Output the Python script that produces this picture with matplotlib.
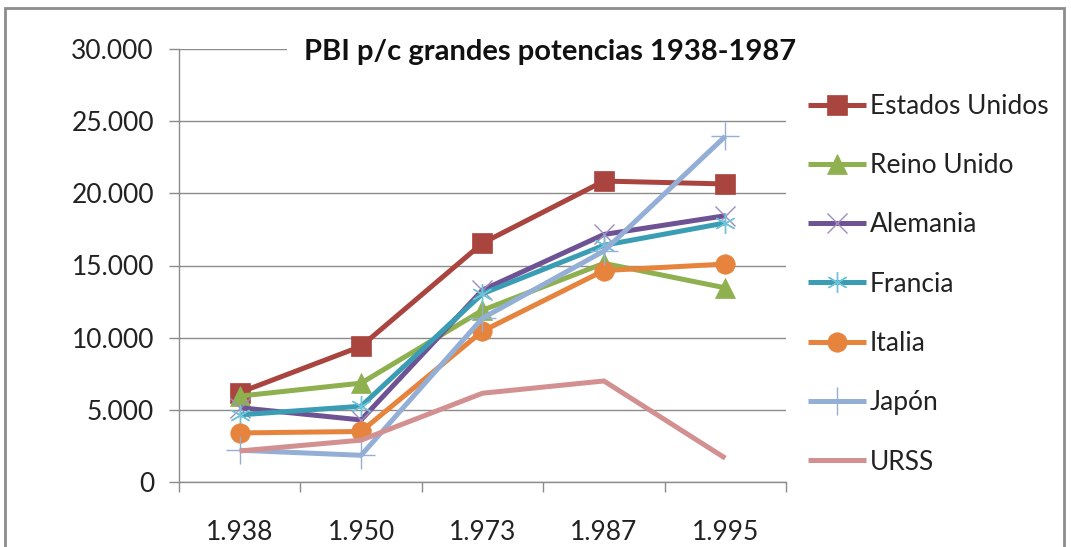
import numpy as np
import matplotlib
matplotlib.use("Agg")
import matplotlib.pyplot as plt
from matplotlib.patches import Rectangle
from matplotlib.ticker import FuncFormatter

plt.rcParams['font.family'] = ['Lato', 'DejaVu Sans']

years = ['1.938', '1.950', '1.973', '1.987', '1.995']
estados_unidos = [6200, 9400, 16550, 20850, 20650]
reino_unido = [5950, 6850, 11900, 15150, 13450]
alemania = [5150, 4300, 13300, 17150, 18450]
francia = [4650, 5250, 13050, 16400, 17950]
italia = [3400, 3500, 10450, 14650, 15100]
japon = [2200, 1850, 11350, 16000, 23950]
urss = [2150, 2900, 6150, 7000, 1650]

W, H = 1071, 547
fig = plt.figure(figsize=(W / 100, H / 100), dpi=100)
ax = fig.add_axes([179 / W, 1 - 482 / H, (786 - 179) / W, (482 - 49) / H])

x = np.arange(len(years))
# (label, values, line colour, marker, marker colour, marker size)
series = [
    ('Estados Unidos', estados_unidos, '#A9443F', 's', '#A9443F', 14),
    ('Reino Unido', reino_unido, '#8EB04F', '^', '#8EB04F', 14),
    ('Alemania', alemania, '#6E5394', 'x', '#A08CC0', 14),
    ('Francia', francia, '#3A9DB4', (6, 2, 0), '#6FC3D8', 15),
    ('Italia', italia, '#E6843D', 'o', '#E6843D', 14),
    ('Japón', japon, '#94AFD6', '+', '#94AFD6', 20),
    ('URSS', urss, '#D39090', 'None', '#D39090', 0),
]
for lab, vals, col, mk, mcol, ms in series:
    ax.plot(x, vals, color=col, lw=3.6, marker=mk, ms=ms, mfc=mcol, mec=mcol,
            mew=1.0 if mk in ('x', '+', (6, 2, 0)) else 0.5,
            label=lab, solid_capstyle='butt', clip_on=False)

ax.set_xlim(-0.5, len(years) - 0.5)
ax.set_ylim(0, 30000)
ax.set_yticks(np.arange(0, 30001, 5000))
ax.yaxis.set_major_formatter(FuncFormatter(lambda v, p: '{:,.0f}'.format(v).replace(',', '.')))
ax.grid(axis='y', color='#8C8C8C', lw=1.0)
ax.set_axisbelow(True)

ax.set_xticks(x)
ax.set_xticklabels(years)
ax.set_xticks(np.arange(-0.5, len(years)), minor=True)
ax.tick_params(axis='x', which='major', length=0, pad=27, labelsize=19, labelcolor='#222222')
ax.tick_params(axis='x', which='minor', length=7, width=1, color='#8C8C8C', direction='out')
ax.tick_params(axis='y', length=7, width=1, color='#8C8C8C', pad=11, labelsize=19, labelcolor='#222222')

for s in ['top', 'right']:
    ax.spines[s].set_visible(False)
for s in ['left', 'bottom']:
    ax.spines[s].set_color('#8C8C8C')
    ax.spines[s].set_linewidth(1.0)

fig.text(550 / W, 1 - 52 / H, 'PBI p/c grandes potencias 1938-1987', ha='center', va='center',
         fontsize=21, fontweight='bold', color='#111111',
         bbox=dict(facecolor='white', edgecolor='none', pad=12))

handles, labels = ax.get_legend_handles_labels()
fig.legend(handles, labels, loc='upper left', bbox_to_anchor=(784 / W, 1 - 70 / H),
           frameon=False, fontsize=19, labelspacing=1.30, handlelength=2.2,
           handletextpad=0.15, labelcolor='#222222')

fig.add_artist(Rectangle((5 / W, -0.1), (1064 - 5) / W, 1.1 - 8 / H, transform=fig.transFigure,
                         fill=False, edgecolor='#8C8C8C', lw=2))

fig.savefig('out.png', dpi=100)
